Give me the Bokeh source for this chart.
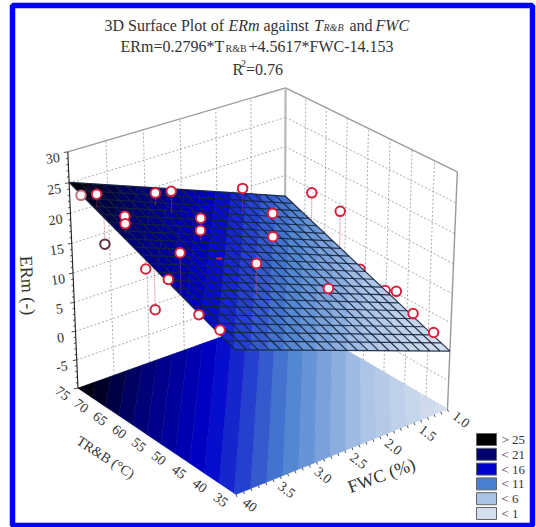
import numpy as np
from bokeh.plotting import figure
from bokeh.embed import file_html
from bokeh.resources import INLINE
from bokeh.core.properties import value

# ---------------- data ----------------
T_RB = [73.0,68.5,67.0,70.2,68.2,69.3,64.2,62.6,64.6,61.4,47.9,56.2,54.1,50.5,43.3,38.4,47.9,68.4,62.3,68.3,61.3,55.8,47.6,49.9,43.6,38.8,48.2,40.1]
FWC  = [3.95,3.97,3.96,3.11,3.00,1.95,3.83,3.91,2.80,2.98,3.98,3.99,3.99,4.00,4.00,4.00,2.98,1.57,1.92,1.00,1.00,1.03,1.00,1.02,1.00,1.00,1.96,2.90]
ERM  = [23.5,25.4,17.8,21.7,22.3,18.4,22.9,22.6,18.4,18.3,23.9,18.1,12.3,18.7,16.0,15.6,18.1,13.0,12.7,14.4,13.8,6.0,5.3,4.6,3.1,1.8,9.6,9.5]
BEHIND = [2,11,12,21,23,27]      # drawn under the surface
SEEN_T, SEEN_F, SEEN_Z = [57.0], [2.97], [15.3]   # point almost hidden by the surface

T_TICKS = [75,70,65,60,55,50,45,40,35]
F_TICKS = [4.0,3.5,3.0,2.5,2.0,1.5,1.0]
F_LABELS = ["40","3.5","3.0","2.5","2.0","1.5","1.0"]
Z_TICKS = [30,25,20,15,10,5,0,-5]
Z_MIN, Z_MAX = -10, 30
COEF_T, COEF_F, COEF_0 = 0.2796, 4.5617, -14.153
LEGEND_LABELS = ["> 25","< 21","< 16","< 11","< 6","< 1"]
LEGEND_COLORS = ["#000000","#00006e","#0000cc","#4a80cf","#a9c2e5","#d3deee"]
LEVELS = [1,6,11,16,21,25]

# ---------------- camera, calibrated on the box corners ----------------
BOX = [((75,4,-10),(77,387)),((75,4,30),(68,150)),((35,4,-10),(235,494)),((35,4,30),(234,248)),
       ((35,1,-10),(447,408)),((35,1,30),(457,170)),((75,1,-10),(285,315)),((75,1,30),(284,88))]
A=[]
for (X,Y,Z),(u,v) in BOX:
    A.append([X,Y,Z,1,0,0,0,0,-u*X,-u*Y,-u*Z,-u])
    A.append([0,0,0,0,X,Y,Z,1,-v*X,-v*Y,-v*Z,-v])
s=np.array([75,4,30,1,75,4,30,1,75,4,30,1.])
CAM=(np.linalg.svd(np.array(A,float)/s)[2][-1]/s).reshape(3,4)

def proj(t,f,z):
    w=CAM@np.array([t,f,z,1.0])
    return float(w[0]/w[2]),float(w[1]/w[2])
def plane(t,f):
    return COEF_T*t+COEF_F*f+COEF_0

def hexrgb(c): return np.array([int(c[i:i+2],16) for i in (1,3,5)],float)
def band_color(z):
    stops=LEGEND_COLORS[::-1]
    r=[np.interp(z,LEVELS,[hexrgb(c)[k] for c in stops]) for k in range(3)]
    return "#%02x%02x%02x"%tuple(int(round(x)) for x in r)

def clip(poly,lo,hi):
    def half(pts,g):
        out=[]
        for i in range(len(pts)):
            a,b=pts[i],pts[(i+1)%len(pts)]
            ga,gb=g(a),g(b)
            if ga>=0: out.append(a)
            if (ga>=0)!=(gb>=0):
                r=ga/(ga-gb); out.append((a[0]+r*(b[0]-a[0]),a[1]+r*(b[1]-a[1])))
        return out
    pts=half(poly,lambda p:plane(*p)-lo)
    if pts: pts=half(pts,lambda p:hi-plane(*p))
    return pts

DOMAIN=[(75,4),(35,4),(35,1),(75,1)]
def bands(zfun):
    xs,ys,cs=[],[],[]
    for lo in np.arange(-1,27,1.0):
        pts=clip(DOMAIN,lo,lo+1)
        if len(pts)>=3:
            pp=[proj(t,f,zfun(t,f)) for t,f in pts]
            xs.append([q[0] for q in pp]);ys.append([q[1] for q in pp]);cs.append(band_color(lo+0.5))
    return dict(xs=xs,ys=ys,fill_color=cs,line_color=cs)

p=figure(width=536,height=527,x_range=(0,536),y_range=(527,0),output_backend="svg",toolbar_location=None,
         min_border=0,outline_line_color=None,background_fill_color="white",border_fill_color="white",
         x_axis_type=None,y_axis_type=None,styles={"position":"absolute","left":"0px","top":"0px"})
p.grid.visible=False

SERIF=value("Liberation Serif")
INK="#333333"

# frame
p.quad(left=[12],right=[532],top=[5],bottom=[525],fill_color=None,line_color="#0000ff",line_width=5.5)

# walls
def seg(a,b):
    pa,pb=proj(*a),proj(*b)
    return [pa[0],pb[0]],[pa[1],pb[1]]
gx,gy=[],[]
for z in range(Z_MIN,Z_MAX,5):
    for a,b in (((75,4,z),(75,1,z)),((75,1,z),(35,1,z))):
        x,y=seg(a,b);gx.append(x);gy.append(y)
for f in np.arange(1.5,4,0.5):
    x,y=seg((75,f,Z_MIN),(75,f,Z_MAX));gx.append(x);gy.append(y)
for t in range(40,75,5):
    x,y=seg((t,1,Z_MIN),(t,1,Z_MAX));gx.append(x);gy.append(y)
p.multi_line(gx,gy,line_color="#a0a0a0",line_width=0.9,line_dash="2 2")
ex,ey=[],[]
for a,b in (((75,4,Z_MAX),(75,1,Z_MAX)),((75,1,Z_MAX),(35,1,Z_MAX)),((35,1,Z_MIN),(35,1,Z_MAX))):
    x,y=seg(a,b);ex.append(x);ey.append(y)
p.multi_line(ex,ey,line_color="#9a9a9a",line_width=1.4)
x,y=seg((75,1,Z_MIN),(75,1,Z_MAX))
p.line(x,y,line_color="#b8b8b8",line_width=2.2)

# floor
p.patches("xs","ys",source=bands(lambda t,f:Z_MIN),fill_color="fill_color",line_color="line_color",line_width=0.5)

# z axis
x,y=seg((75,4,Z_MIN),(75,4,Z_MAX))
p.line(x,y,line_color="#222222",line_width=1.1)
tx,ty=[],[]
for z in range(Z_MIN,Z_MAX+1):
    q=proj(75,4,z);L=4 if z%5==0 else 2
    tx.append([q[0]-L,q[0]]);ty.append([q[1]+0.6,q[1]])
p.multi_line(tx,ty,line_color="#222222",line_width=0.8)
# fwc ticks
tx,ty=[],[]
for f in np.arange(1,4.01,0.1):
    q=proj(35,f,Z_MIN)
    tx.append([q[0],q[0]+1]);ty.append([q[1],q[1]+2.5])
p.multi_line(tx,ty,line_color="#222222",line_width=0.8)

def draw_points(idx):
    sx,sy=[],[]
    for i in idx:
        a=proj(T_RB[i],FWC[i],ERM[i]);b=proj(T_RB[i],FWC[i],plane(T_RB[i],FWC[i]))
        sx.append([a[0],b[0]]);sy.append([a[1],b[1]])
    p.multi_line(sx,sy,line_color="#d24a62",line_width=1.1,line_dash="1 1",line_alpha=0.75)
    pts=[proj(T_RB[i],FWC[i],ERM[i]) for i in idx]
    rings=[{0:"#c9707f",2:"#5e3344"}.get(i,"#d8213f") for i in idx]
    p.scatter([q[0] for q in pts],[q[1] for q in pts],size=9.5,fill_color="white",line_color=rings,line_width=2)

draw_points(BEHIND)

# surface
p.patches("xs","ys",source=bands(plane),fill_color="fill_color",line_color="line_color",line_width=0.5)
mx,my=[],[]
for k in range(21):
    f=1+3*k/20;t=35+40*k/20
    x,y=seg((75,f,plane(75,f)),(35,f,plane(35,f)));mx.append(x);my.append(y)
    x,y=seg((t,1,plane(t,1)),(t,4,plane(t,4)));mx.append(x);my.append(y)
p.multi_line(mx,my,line_color="#15243c",line_width=1.2,line_alpha=0.9)

draw_points([i for i in range(len(T_RB)) if i not in BEHIND])
q=proj(SEEN_T[0],SEEN_F[0],SEEN_Z[0])
p.scatter([q[0]],[q[1]],marker="dash",size=6,line_color="#d8213f",line_width=2)

# tick labels
def labels(pos,texts,dx,dy,angle,size="14px"):
    p.text([c[0]+dx for c in pos],[c[1]+dy for c in pos],text=texts,angle=angle,angle_units="deg",
           text_font=SERIF,text_font_size=size,text_color=INK,text_align="center",text_baseline="middle")
labels([proj(75,4,z) for z in Z_TICKS],[str(z) for z in Z_TICKS],-15,6,8)
labels([proj(t,4,Z_MIN) for t in T_TICKS],[str(t) for t in T_TICKS],-15,5,-38)
labels([proj(35,f,Z_MIN) for f in F_TICKS],F_LABELS,14,10,-38)

# axis titles
def txt(x,y,s,size,angle=0,align="center",style="normal",base="middle"):
    p.text([x],[y],text=[s],angle=angle,angle_units="deg",text_font=SERIF,text_font_size=size,text_font_style=style,
           text_color=INK,text_align=align,text_baseline=base)
txt(27,285,"ERm (-)","18px",-87)
txt(105,457,"TR&B (°C)","14px",-33)
txt(381,475,"FWC (%)","18px",20)

# title
for x,y,s,size,style in [
    (104,24.5,"3D Surface Plot of","16px","normal"),(228,24.5,"ERm","16px","italic"),(263,24.5,"against","16px","normal"),
    (313.5,24.5,"T","16px","italic"),(323,27,"R&B","10px","italic"),(349,24.5,"and","16px","normal"),(375,24.5,"FWC","16px","italic"),
    (120,45.5,"ERm=0.2796*T","16px","normal"),(225,48,"R&B","10px","normal"),(248,45.5,"+4.5617*FWC-14.153","16px","normal"),
    (232,69,"R","16px","normal"),(240.5,63,"2","10px","normal"),(245.5,69,"=0.76","16px","normal")]:
    txt(x,y,s,size,align="left",style=style,base="alphabetic")

# legend
for i,(lab,col) in enumerate(zip(LEGEND_LABELS,LEGEND_COLORS)):
    y0=433+14.8*i
    p.quad(left=[476],right=[496],top=[y0],bottom=[y0+12],fill_color=col,line_color="#666666",line_width=1)
    txt(501,y0+6,lab,"13px",align="left")

open("out.html","w").write(file_html(p,INLINE))
